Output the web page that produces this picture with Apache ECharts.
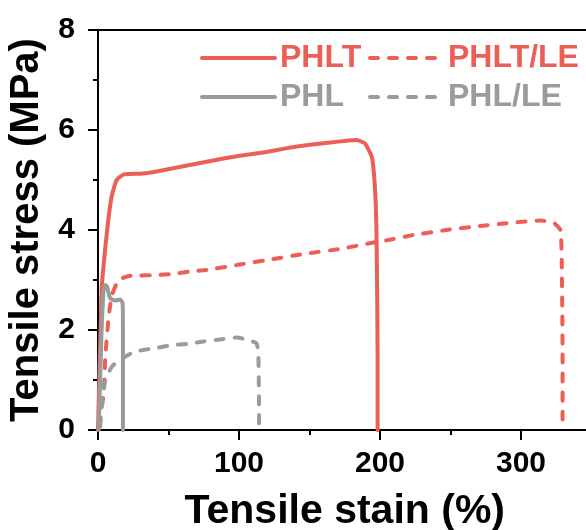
<!DOCTYPE html>
<html>
<head>
<meta charset="utf-8">
<script src="https://cdn.jsdelivr.net/npm/echarts@6/dist/echarts.min.js"></script>
<style>html,body{margin:0;padding:0;background:#fff}#c{width:586px;height:530px}</style>
</head>
<body>
<div id="c"></div>
<script>
// ---- data ----
const seriesNames = ['PHLT', 'PHLT/LE', 'PHL', 'PHL/LE'];
const xTicks = [0, 100, 200, 300];
const yTicks = [0, 2, 4, 6, 8];

const phltStrain = [0, 2.6, 5, 7.3, 9.7, 13.2, 18, 22.7, 32, 41.6, 65, 89, 99.5, 117, 141, 164.5, 183.5, 189.4, 194.1, 195.7, 197, 197.6, 198.3, 198.3];
const phltStress = [0, 2.83, 3.6, 4.2, 4.67, 5.0, 5.11, 5.12, 5.13, 5.17, 5.3, 5.43, 5.48, 5.55, 5.67, 5.75, 5.8, 5.73, 5.47, 5.13, 4.53, 3.8, 1.5, 0];

const phltLeStrain = [0.9, 4, 5.2, 7.6, 9.9, 14.7, 21.8, 29.8, 41.6, 53.4, 65, 77, 100.7, 124.3, 148, 171.6, 195.3, 205.9, 223.6, 247.3, 271, 294.5, 313.5, 323, 328, 328.9, 329.5, 329.5];
const phltLeStress = [0.1, 0.73, 1.47, 2.27, 2.7, 3.0, 3.08, 3.09, 3.1, 3.12, 3.17, 3.2, 3.31, 3.42, 3.53, 3.62, 3.75, 3.8, 3.9, 4.0, 4.08, 4.15, 4.19, 4.15, 4.0, 3.33, 1.5, 0];

const phlStrain = [0.5, 2.4, 4, 5.2, 6.4, 8.7, 12.3, 15.8, 17.5, 17.7, 17.7];
const phlStress = [0, 1.87, 2.8, 2.9, 2.87, 2.63, 2.59, 2.61, 2.53, 1.87, 0];

const phlLeStrain = [1.6, 2.8, 5.2, 9.9, 17, 26.5, 43, 52.5, 62.9, 74.7, 86.5, 98.4, 105.4, 112.5, 113.7, 114.2, 114.2];
const phlLeStress = [0.07, 0.53, 1.0, 1.27, 1.43, 1.57, 1.65, 1.7, 1.72, 1.77, 1.81, 1.85, 1.81, 1.73, 1.53, 0.5, 0];

// ---- build ----
const RED = '#EB5F57';
const GRAY = '#9B9B9B';
const FONT = '"Liberation Sans", Arial, sans-serif';
const DASH = [8, 11];
const pairs = (xs, ys) => xs.map((x, i) => [x, ys[i]]);

const lineDefs = [
  { name: seriesNames[0], data: pairs(phltStrain, phltStress), color: RED, type: 'solid' },
  { name: seriesNames[1], data: pairs(phltLeStrain, phltLeStress), color: RED, type: DASH },
  { name: seriesNames[2], data: pairs(phlStrain, phlStress), color: GRAY, type: 'solid' },
  { name: seriesNames[3], data: pairs(phlLeStrain, phlLeStress), color: GRAY, type: DASH }
];

const legendPos = [
  { left: 200, cy: 60 }, { left: 368, cy: 60 },
  { left: 200, cy: 99 }, { left: 368, cy: 99 }
];
const LEG_H = 36;

const legends = lineDefs.map((d, i) => ({
  data: [d.name],
  left: legendPos[i].left,
  top: legendPos[i].cy - LEG_H / 2,
  orient: 'horizontal',
  padding: 0,
  itemWidth: i % 2 === 0 ? 73 : 69,
  itemHeight: LEG_H,
  selectedMode: false,
  itemStyle: { color: 'rgba(0,0,0,0)', opacity: 0, borderWidth: 0 },
  lineStyle: { color: d.color, width: 4, type: d.type, cap: 'round' },
  textStyle: {
    color: d.color, fontSize: 32, fontWeight: 'bold', fontFamily: FONT,
    padding: [0, 0, 0, i % 2 === 0 ? 0 : 4]
  }
}));

const axisLineStyle = { color: '#000', width: 2 };

const chart = echarts.init(document.getElementById('c'), null, { renderer: 'canvas' });
chart.setOption({
  animation: false,
  backgroundColor: '#fff',
  legend: legends,
  grid: {
    left: 98, top: 30, width: 493.5, height: 400,
    outerBoundsMode: 'none', containLabel: false,
    show: true, borderColor: '#000', borderWidth: 2, backgroundColor: 'transparent'
  },
  xAxis: {
    type: 'value', min: 0, max: 350, interval: 100,
    name: 'Tensile stain (%)', nameLocation: 'middle', nameGap: 61,
    nameTextStyle: { fontSize: 41, fontWeight: 'bold', fontFamily: FONT, color: '#000' },
    axisLine: { show: true, lineStyle: axisLineStyle },
    axisTick: { show: true, inside: false, length: 10, lineStyle: axisLineStyle },
    minorTick: { show: true, splitNumber: 2, length: 5, lineStyle: axisLineStyle },
    axisLabel: {
      fontSize: 30, fontWeight: 'bold', fontFamily: FONT, color: '#000', margin: 19,
      showMaxLabel: false,
      formatter: v => (xTicks.indexOf(v) >= 0 ? String(v) : '')
    },
    splitLine: { show: false }
  },
  yAxis: {
    type: 'value', min: 0, max: 8, interval: 2,
    name: 'Tensile stress (MPa)', nameLocation: 'middle', nameGap: 47, nameRotate: 90,
    nameTextStyle: { fontSize: 40, fontWeight: 'bold', fontFamily: FONT, color: '#000' },
    axisLine: { show: true, lineStyle: axisLineStyle },
    axisTick: { show: true, inside: false, length: 10, lineStyle: axisLineStyle },
    minorTick: { show: true, splitNumber: 2, length: 5, lineStyle: axisLineStyle },
    axisLabel: {
      fontSize: 30, fontWeight: 'bold', fontFamily: FONT, color: '#000', margin: 23,
      formatter: v => (yTicks.indexOf(v) >= 0 ? String(v) : '')
    },
    splitLine: { show: false }
  },
  series: lineDefs.map(d => ({
    name: d.name,
    type: 'line',
    data: d.data,
    symbol: 'none',
    showSymbol: false,
    smooth: 0.15,
    color: d.color,
    lineStyle: { color: d.color, width: 4, type: d.type, cap: 'round', join: 'round' },
    emphasis: { disabled: true }
  }))
});
</script>
</body>
</html>
